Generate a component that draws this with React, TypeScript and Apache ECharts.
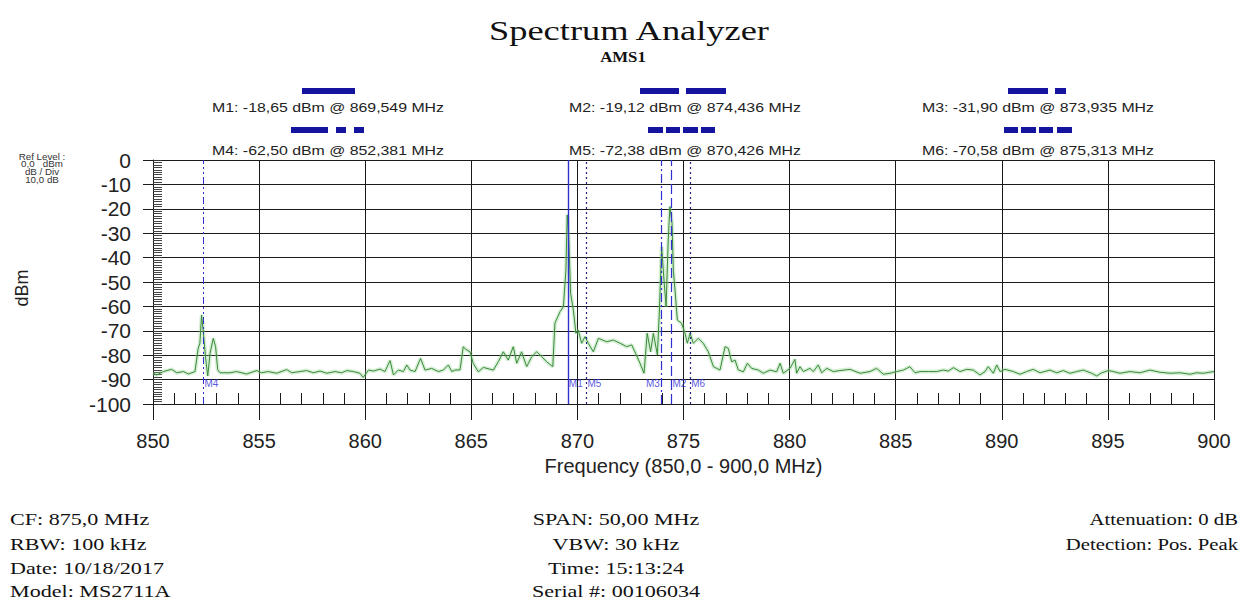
import React, { useEffect, useRef } from "react";
import * as echarts from "echarts";

// ---- data ----
const freqs = [
  850.0, 850.17, 850.49, 850.88, 851.12, 851.43, 851.67, 851.98, 852.13, 852.21, 852.29, 852.37, 852.48, 852.58, 852.69, 852.84, 852.95,
  853.05, 853.16, 853.63, 853.94, 854.41, 854.89, 855.12, 855.43, 855.83, 856.3, 856.54, 856.93, 857.24, 857.56, 857.87, 858.19, 858.58,
  858.89, 859.13, 859.44, 859.75, 859.91, 860.15, 860.38, 860.7, 860.93, 861.17, 861.33, 861.56, 861.8, 861.96, 862.11, 862.35, 862.61,
  862.82, 863.13, 863.45, 863.68, 863.92, 864.08, 864.23, 864.47, 864.62, 864.72, 864.94, 865.09, 865.33, 865.57, 866.04, 866.27, 866.51,
  866.74, 866.98, 867.14, 867.37, 867.61, 867.85, 868.08, 868.32, 868.55, 868.84, 868.94, 869.18, 869.34, 869.46, 869.52, 869.59, 869.68,
  869.81, 869.93, 870.04, 870.2, 870.36, 870.51, 870.75, 870.99, 871.38, 871.69, 872.01, 872.32, 872.56, 872.71, 872.95, 873.14, 873.29,
  873.45, 873.58, 873.77, 873.86, 873.97, 874.08, 874.18, 874.28, 874.36, 874.46, 874.52, 874.6, 874.71, 874.91, 875.07, 875.18, 875.31,
  875.46, 875.7, 875.93, 876.17, 876.41, 876.72, 876.96, 877.11, 877.27, 877.43, 877.58, 877.82, 878.01, 878.21, 878.53, 878.76, 879.08,
  879.39, 879.55, 879.7, 880.02, 880.25, 880.33, 880.49, 880.65, 880.96, 881.12, 881.35, 881.51, 881.75, 882.06, 882.37, 882.85, 883.32,
  883.79, 884.1, 884.42, 884.73, 885.05, 885.36, 885.67, 885.91, 886.15, 886.54, 886.93, 887.24, 887.48, 887.72, 888.03, 888.35, 888.66,
  888.97, 889.21, 889.36, 889.6, 889.76, 889.92, 890.15, 890.54, 890.86, 891.17, 891.48, 891.8, 892.27, 892.59, 892.9, 893.21, 893.53,
  893.84, 894.24, 894.47, 894.71, 895.02, 895.25, 895.57, 896.04, 896.51, 896.98, 897.46, 897.93, 898.4, 898.87, 899.18, 899.5, 900.0,
];
const levels = [
  -87.2, -88.1, -86.7, -85.8, -87.2, -86.7, -87.7, -86.7, -77.2, -75.1, -63.5, -70.4, -81.3, -88.5, -79.2, -73.1, -76.5,
  -86.0, -87.2, -87.2, -86.7, -87.7, -86.3, -87.2, -86.7, -87.4, -85.9, -87.2, -86.7, -86.3, -87.2, -86.5, -87.4, -86.7,
  -87.2, -86.3, -86.7, -87.4, -89.1, -86.1, -86.5, -85.7, -86.7, -82.2, -88.1, -86.1, -86.7, -84.0, -86.1, -86.7, -81.3,
  -86.1, -85.4, -86.7, -86.1, -84.0, -86.7, -86.1, -86.0, -76.5, -77.5, -78.6, -83.3, -86.8, -85.0, -86.1, -82.7, -78.6,
  -82.0, -76.5, -83.3, -78.6, -84.7, -80.6, -78.6, -80.6, -82.7, -84.7, -66.9, -62.2, -60.1, -45.0, -22.5, -31.4, -54.6,
  -61.5, -71.0, -69.7, -75.1, -72.4, -75.1, -78.6, -73.1, -74.5, -73.8, -75.1, -76.5, -75.8, -78.6, -83.3, -87.4, -71.0,
  -78.6, -71.0, -79.9, -62.8, -35.5, -49.2, -60.1, -32.8, -19.1, -25.9, -45.0, -53.3, -65.6, -66.9, -71.0, -75.1, -71.0,
  -75.1, -73.1, -75.1, -78.6, -84.7, -86.1, -76.5, -77.2, -82.7, -82.0, -86.0, -86.8, -83.3, -85.4, -86.1, -87.4, -86.1,
  -86.8, -83.3, -87.4, -85.4, -81.7, -87.4, -84.7, -86.7, -85.4, -86.7, -84.0, -87.2, -85.4, -86.7, -86.3, -85.8, -87.4,
  -86.7, -85.4, -87.8, -87.4, -86.7, -86.1, -84.7, -87.2, -86.7, -86.7, -86.7, -86.1, -86.5, -85.1, -86.7, -85.8, -86.1,
  -88.1, -86.7, -84.7, -87.4, -84.0, -86.7, -85.8, -86.7, -87.8, -86.7, -85.8, -87.2, -86.1, -87.2, -86.3, -87.4, -86.7,
  -86.1, -87.4, -88.5, -87.2, -86.3, -86.7, -87.4, -86.7, -87.2, -86.1, -87.0, -87.4, -87.2, -87.8, -87.2, -87.4, -86.7,
];

const markerNames = ["M1", "M2", "M3", "M4", "M5", "M6"];
const markerFreqs = [869.549, 874.436, 873.935, 852.381, 870.426, 875.313];
const markerLevels = [-18.65, -19.12, -31.9, -62.5, -72.38, -70.58];

const titleText = "Spectrum Analyzer";
const subtitleText = "AMS1";
const yAxisTitle = "dBm";
const xAxisTitle = "Frequency (850,0 - 900,0 MHz)";
const refLevelLines = ["Ref Level :", "0,0   dBm", "dB / Div", "10,0 dB"];
const leftInfo = ["CF: 875,0 MHz", "RBW: 100 kHz", "Date: 10/18/2017", "Model: MS2711A"];
const midInfo = ["SPAN: 50,00 MHz", "VBW: 30 kHz", "Time: 15:13:24", "Serial #: 00106034"];
const rightInfo = ["Attenuation: 0 dB", "Detection: Pos. Peak"];

// ---- styling ----
const MARKER_COLOR = "#3030d0";
const MARKER_DARK = "#22228a";
const SAMPLE_COLOR = "#14149e";
const markerLineTypes: any[] = ["solid", [10, 4], [9, 3, 2, 3], [7, 3, 2, 3, 2, 3], [2, 3], [2, 3]];
const markerLineColors = [MARKER_COLOR, MARKER_COLOR, MARKER_COLOR, MARKER_COLOR, MARKER_DARK, MARKER_DARK];
const markerLineWidths = [1.4, 1.2, 1.2, 1, 1.2, 1.2];
const markerLabelSide = ["right", "right", "left", "right", "right", "right"];
// legend sample bars: [x0, x1] segments per marker
const sampleSegments: number[][][] = [
  [[302, 355]],
  [[640, 679], [686, 726]],
  [[1008, 1048], [1055, 1066]],
  [[291, 328], [336, 346], [354, 364]],
  [[648, 663], [666, 680], [683, 698], [701, 715]],
  [[1004, 1018], [1021, 1036], [1039, 1053], [1057, 1072]],
];
const legendCenters = [328, 685, 1038, 328, 685, 1038];
const legendRowY = [108, 108, 108, 151, 151, 151];
const sampleRowY = [88, 88, 88, 127, 127, 127];

const fmt = (v: number, d: number) => v.toFixed(d).replace(".", ",");

export default function App() {
  const ref = useRef<HTMLDivElement>(null);
  useEffect(() => {
    if (!ref.current) return;
    const chart = echarts.init(ref.current, null, { renderer: "svg" });
    const trace = freqs.map((f, i) => [f, levels[i]]);
    const graphics: any[] = [];
    graphics.push({
      type: "text", x: 629, y: 31, scaleX: 1.3,
      style: { text: titleText, font: "28px 'Liberation Serif'", fill: "#111", textAlign: "center", textVerticalAlign: "middle" },
    });
    graphics.push({
      type: "text", x: 623, y: 57, scaleX: 1.2,
      style: { text: subtitleText, font: "bold 14px 'Liberation Serif'", fill: "#111", textAlign: "center", textVerticalAlign: "middle" },
    });
    graphics.push({
      type: "text", x: 22, y: 288, rotation: Math.PI / 2,
      style: { text: yAxisTitle, font: "18px 'Liberation Sans'", fill: "#222", textAlign: "center", textVerticalAlign: "middle" },
    });
    refLevelLines.forEach((t, i) => {
      graphics.push({
        type: "text", x: 42, y: 157 + i * 7.7, scaleX: 1.15,
        style: { text: t, font: "8.5px 'Liberation Sans'", fill: "#333", textAlign: "center", textVerticalAlign: "middle" },
      });
    });
    markerNames.forEach((n, i) => {
      graphics.push({
        type: "text", x: legendCenters[i], y: legendRowY[i], scaleX: 1.27,
        style: {
          text: `${n}: ${fmt(markerLevels[i], 2)} dBm @ ${fmt(markerFreqs[i], 3)} MHz`,
          font: "12.5px 'Liberation Sans'", fill: "#222", textAlign: "center", textVerticalAlign: "middle",
        },
      });
      sampleSegments[i].forEach(([a, b]) => {
        graphics.push({ type: "rect", shape: { x: a, y: sampleRowY[i], width: b - a, height: 6 }, style: { fill: SAMPLE_COLOR } });
      });
    });
    const infoRowsY = [519, 544, 568, 591];
    leftInfo.forEach((t, i) => {
      graphics.push({ type: "text", x: 10, y: infoRowsY[i], scaleX: 1.3,
        style: { text: t, font: "17px 'Liberation Serif'", fill: "#111", textAlign: "left", textVerticalAlign: "middle" } });
    });
    midInfo.forEach((t, i) => {
      graphics.push({ type: "text", x: 616, y: infoRowsY[i], scaleX: 1.3,
        style: { text: t, font: "17px 'Liberation Serif'", fill: "#111", textAlign: "center", textVerticalAlign: "middle" } });
    });
    rightInfo.forEach((t, i) => {
      graphics.push({ type: "text", x: 1238, y: infoRowsY[i], scaleX: 1.22,
        style: { text: t, font: "17px 'Liberation Serif'", fill: "#111", textAlign: "right", textVerticalAlign: "middle" } });
    });

    const axisColor = "#1a1a1a";
    chart.setOption({
      animation: false,
      backgroundColor: "#fff",
      grid: { left: 153, top: 160, width: 1061, height: 244, containLabel: false },
      xAxis: [
        {
          type: "value", min: 850, max: 900, interval: 5, position: "bottom",
          name: xAxisTitle, nameLocation: "middle", nameGap: 52,
          nameTextStyle: { fontSize: 20, color: "#222", fontFamily: "Liberation Sans" },
          axisLine: { show: true, onZero: false, lineStyle: { color: axisColor, width: 1 } },
          axisTick: { show: true, inside: false, length: 16, lineStyle: { color: axisColor } },
          axisLabel: { fontSize: 20, color: "#222", margin: 27, fontFamily: "Liberation Sans" },
          splitLine: { show: true, lineStyle: { color: axisColor, width: 1 } },
        },
        {
          type: "value", min: 850, max: 900, interval: 5, position: "bottom",
          axisLine: { show: false, onZero: false }, axisLabel: { show: false }, splitLine: { show: false },
          axisTick: { show: true, inside: true, length: 11, lineStyle: { color: axisColor } },
          minorTick: { show: true, splitNumber: 5, length: 11, lineStyle: { color: axisColor } },
        },
      ],
      yAxis: [
        {
          type: "value", min: -100, max: 0, interval: 10, position: "left",
          axisLine: { show: true, onZero: false, lineStyle: { color: axisColor, width: 1 } },
          axisTick: { show: true, inside: false, length: 10, lineStyle: { color: axisColor } },
          axisLabel: { fontSize: 21, color: "#222", margin: 22, fontFamily: "Liberation Sans" },
          splitLine: { show: true, lineStyle: { color: axisColor, width: 1 } },
        },
        {
          type: "value", min: -100, max: 0, interval: 10, position: "left",
          axisLine: { show: false, onZero: false }, axisLabel: { show: false }, splitLine: { show: false },
          axisTick: { show: true, inside: true, length: 9, lineStyle: { color: "#333" } },
          minorTick: { show: true, splitNumber: 10, length: 9, lineStyle: { color: "#444" } },
        },
      ],
      graphic: graphics,
      series: [
        {
          name: "glow", type: "line", xAxisIndex: 0, yAxisIndex: 0, data: trace, showSymbol: false, silent: true,
          lineStyle: { width: 4, color: "rgba(140,210,140,0.35)" }, z: 1,
        },
        {
          name: "trace", type: "line", xAxisIndex: 0, yAxisIndex: 0, data: trace, showSymbol: false,
          lineStyle: { width: 1, color: "#3a8a3a" }, z: 2,
          markLine: {
            silent: true, symbol: ["none", "none"], label: { show: false },
            data: markerFreqs.map((f, i) => ({
              xAxis: f,
              lineStyle: { type: markerLineTypes[i], color: markerLineColors[i], width: markerLineWidths[i] },
            })),
          },
        },
        {
          name: "markerLabels", type: "scatter", xAxisIndex: 0, yAxisIndex: 0, symbolSize: 0, z: 4,
          data: markerFreqs.map((f, i) => ({
            value: [f, -91.5],
            label: {
              show: true, formatter: markerNames[i], position: markerLabelSide[i], distance: 1,
              color: "#2b2bd6", fontSize: 10, fontFamily: "Liberation Sans",
            },
          })),
        },
      ],
    });
    return () => chart.dispose();
  }, []);
  return <div ref={ref} style={{ position: "fixed", left: 0, top: 0, width: 1239, height: 601 }} />;
}
